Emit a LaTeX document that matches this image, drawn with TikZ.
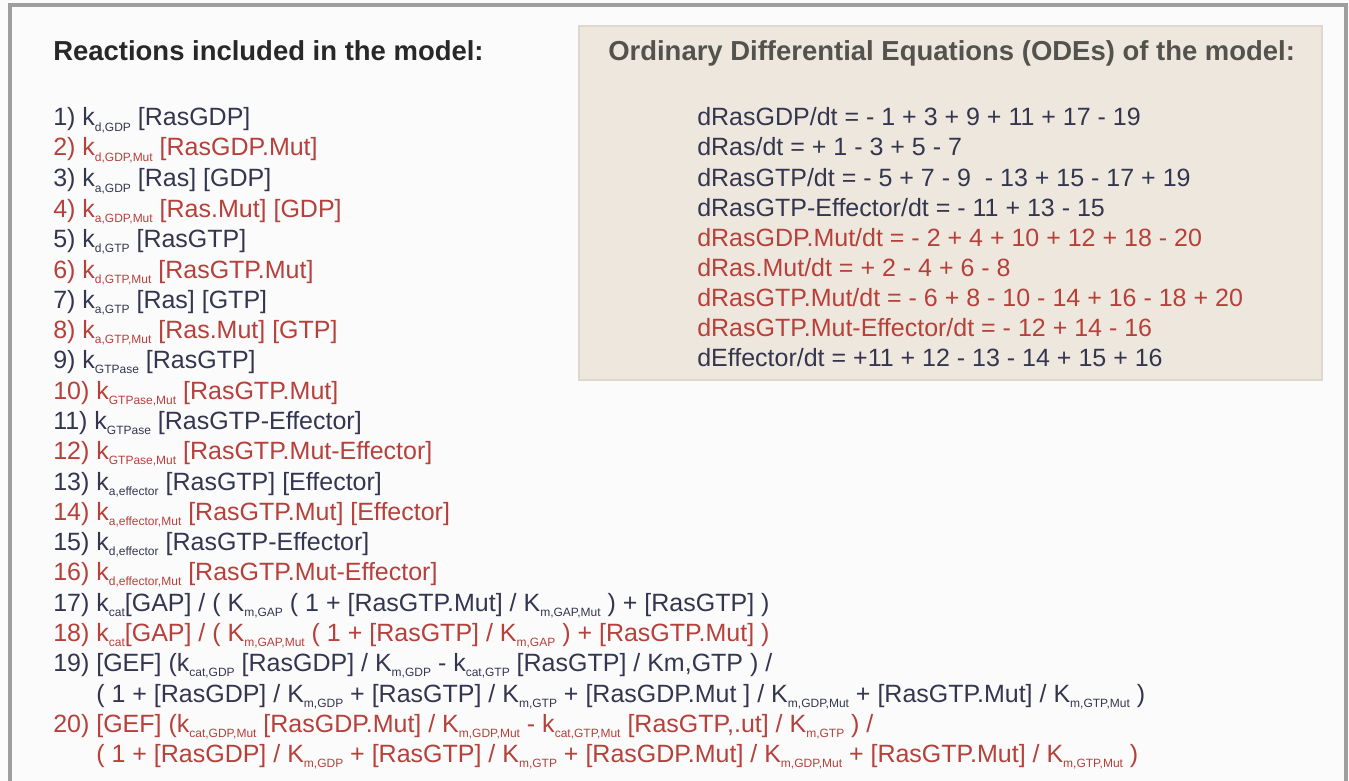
\documentclass[tikz,border=0pt]{standalone}
\usepackage{fontspec}
\setmainfont{Liberation Sans}
\usepackage{xcolor}
\usetikzlibrary{positioning}
\definecolor{wildtype}{RGB}{52,54,80}
\definecolor{mutant}{RGB}{182,64,58}
\definecolor{heading}{RGB}{40,40,40}
\definecolor{odehead}{RGB}{84,82,76}
\definecolor{odefill}{RGB}{238,231,221}
\definecolor{odeedge}{RGB}{224,215,204}
\definecolor{frame}{RGB}{158,158,158}
\definecolor{paper}{RGB}{252,251,252}
\newcommand{\ksub}[1]{\raisebox{-0.45ex}{\fontsize{9}{9}\selectfont #1}}

\begin{document}
\begin{tikzpicture}[
  x=0.75pt, y=-0.75pt,
  rxn/.style={anchor=base west, inner sep=0pt, text=wildtype,
    font=\fontsize{18.75}{22}\selectfont},
  mutrxn/.style={rxn, text=mutant},
  title/.style={anchor=base west, inner sep=0pt,
    font=\fontsize{20.6}{24}\selectfont\bfseries},
  odebox/.style={draw=odeedge, line width=1pt, fill=odefill}
]
\useasboundingbox (0,0) rectangle (1349,781);
\fill[paper] (0,0) rectangle (1349,781);

% Outer frame, open at the bottom.
\draw[frame, line width=2.3pt] (10,781) -- (10,5) -- (1346,5) -- (1346,781);

% ODE panel.
\draw[odebox] (579,26) rectangle (1322,380);

% Titles.
\node[title, text=heading] (rxntitle) at (53,61) {Reactions included in the model:};
\node[title, text=odehead] (odetitle) at (608,61) {Ordinary Differential Equations (ODEs) of the model:};

% Reactions.
\node[rxn] (rx1) at (53,126) {1) k\ksub{d,GDP} [RasGDP]};
\node[mutrxn] (rx2) at (53,156) {2) k\ksub{d,GDP,Mut} [RasGDP.Mut]};
\node[rxn] (rx3) at (53,187) {3) k\ksub{a,GDP} [Ras] [GDP]};
\node[mutrxn] (rx4) at (53,217) {4) k\ksub{a,GDP,Mut} [Ras.Mut] [GDP]};
\node[rxn] (rx5) at (53,247) {5) k\ksub{d,GTP} [RasGTP]};
\node[mutrxn] (rx6) at (53,278) {6) k\ksub{d,GTP,Mut} [RasGTP.Mut]};
\node[rxn] (rx7) at (53,308) {7) k\ksub{a,GTP} [Ras] [GTP]};
\node[mutrxn] (rx8) at (53,338) {8) k\ksub{a,GTP,Mut} [Ras.Mut] [GTP]};
\node[rxn] (rx9) at (53,368) {9) k\ksub{GTPase} [RasGTP]};
\node[mutrxn] (rx10) at (53,399) {10) k\ksub{GTPase,Mut} [RasGTP.Mut]};
\node[rxn] (rx11) at (53,429) {11) k\ksub{GTPase} [RasGTP-Effector]};
\node[mutrxn] (rx12) at (53,459) {12) k\ksub{GTPase,Mut} [RasGTP.Mut-Effector]};
\node[rxn] (rx13) at (53,490) {13) k\ksub{a,effector} [RasGTP] [Effector]};
\node[mutrxn] (rx14) at (53,520) {14) k\ksub{a,effector,Mut} [RasGTP.Mut] [Effector]};
\node[rxn] (rx15) at (53,550) {15) k\ksub{d,effector} [RasGTP-Effector]};
\node[mutrxn] (rx16) at (53,580) {16) k\ksub{d,effector,Mut} [RasGTP.Mut-Effector]};
\node[rxn] (rx17) at (53,611) {17) k\ksub{cat}[GAP] / ( K\ksub{m,GAP} ( 1 + [RasGTP.Mut] / K\ksub{m,GAP,Mut} ) + [RasGTP] )};
\node[mutrxn] (rx18) at (53,641) {18) k\ksub{cat}[GAP] / ( K\ksub{m,GAP,Mut} ( 1 + [RasGTP] / K\ksub{m,GAP} ) + [RasGTP.Mut] )};
\node[rxn] (rx19) at (53,671) {19) [GEF] (k\ksub{cat,GDP} [RasGDP] / K\ksub{m,GDP} - k\ksub{cat,GTP} [RasGTP] / Km,GTP ) /};
\node[rxn] (rx19b) at (96,702) {( 1 + [RasGDP] / K\ksub{m,GDP} + [RasGTP] / K\ksub{m,GTP} + [RasGDP.Mut ] / K\ksub{m,GDP,Mut} + [RasGTP.Mut] / K\ksub{m,GTP,Mut} )};
\node[mutrxn] (rx20) at (53,732) {20) [GEF] (k\ksub{cat,GDP,Mut} [RasGDP.Mut] / K\ksub{m,GDP,Mut} - k\ksub{cat,GTP,Mut} [RasGTP,.ut] / K\ksub{m,GTP} ) /};
\node[mutrxn] (rx20b) at (96,762) {( 1 + [RasGDP] / K\ksub{m,GDP} + [RasGTP] / K\ksub{m,GTP} + [RasGDP.Mut] / K\ksub{m,GDP,Mut} + [RasGTP.Mut] / K\ksub{m,GTP,Mut} )};

% ODEs.
\node[rxn] (ode1) at (697,126) {dRasGDP/dt = - 1 + 3 + 9 + 11 + 17 - 19};
\node[rxn] (ode2) at (697,156) {dRas/dt = + 1 - 3 + 5 - 7};
\node[rxn] (ode3) at (697,186) {dRasGTP/dt = - 5 + 7 - 9 \ - 13 + 15 - 17 + 19};
\node[rxn] (ode4) at (697,216) {dRasGTP-Effector/dt = - 11 + 13 - 15};
\node[mutrxn] (ode5) at (697,246) {dRasGDP.Mut/dt = - 2 + 4 + 10 + 12 + 18 - 20};
\node[mutrxn] (ode6) at (697,276) {dRas.Mut/dt = + 2 - 4 + 6 - 8};
\node[mutrxn] (ode7) at (697,306) {dRasGTP.Mut/dt = - 6 + 8 - 10 - 14 + 16 - 18 + 20};
\node[mutrxn] (ode8) at (697,336) {dRasGTP.Mut-Effector/dt = - 12 + 14 - 16};
\node[rxn] (ode9) at (697,366) {dEffector/dt = +11 + 12 - 13 - 14 + 15 + 16};

\end{tikzpicture}
\end{document}
